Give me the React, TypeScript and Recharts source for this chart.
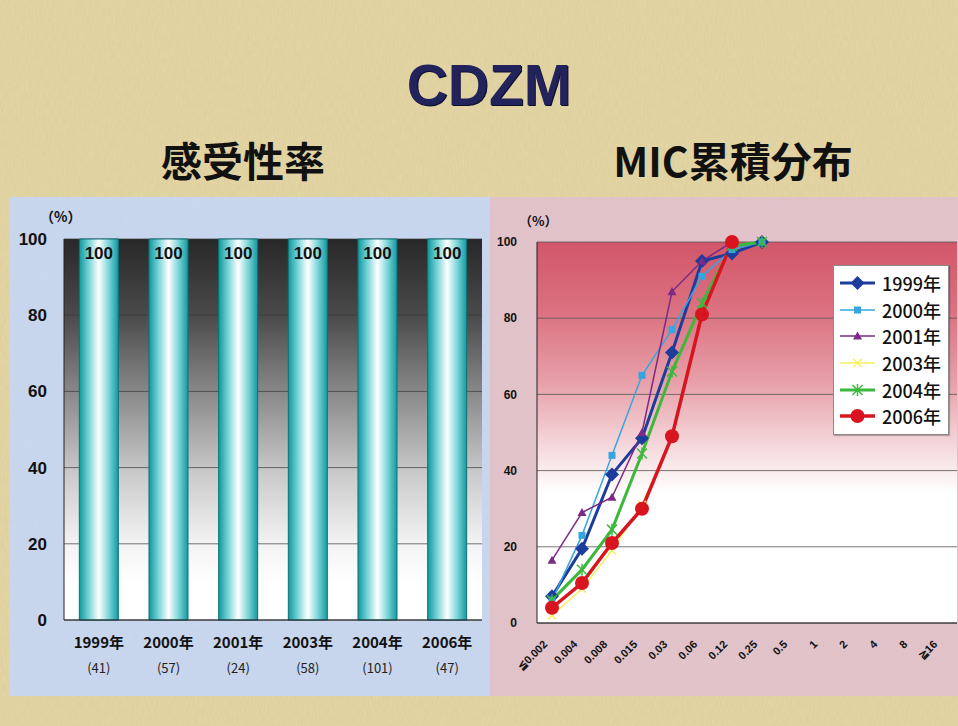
import {
  BarChart,
  Bar,
  LineChart,
  Line,
  XAxis,
  YAxis,
  CartesianGrid,
  LabelList,
  Legend,
} from 'recharts'

// 感受性率
const YEARS = ['1999年', '2000年', '2001年', '2003年', '2004年', '2006年']
const ISOLATES = [41, 57, 24, 58, 101, 47]
const SUSCEPTIBLE = [100, 100, 100, 100, 100, 100]

// MIC累積分布 (%)
const MIC_LABELS = ['≦0.002', '0.004', '0.008', '0.015', '0.03', '0.06', '0.12', '0.25', '0.5', '1', '2', '4', '8', '≧16']
const MIC_1999 = [7, 19.5, 39, 48.5, 71, 95, 97, 100]
const MIC_2000 = [6, 23, 44, 65, 77, 91, 98, 100]
const MIC_2001 = [16.5, 29, 33, 50, 87, 95, 100]
const MIC_2003 = [2, 9, 19, 31, 49, 81, 100]
const MIC_2004 = [6, 14, 24.5, 44.5, 66, 84, 99, 100]
const MIC_2006 = [4, 10.5, 21, 30, 49, 81, 100]

const PCT_TICKS = [0, 20, 40, 60, 80, 100]

type Shape = 'diamond' | 'square' | 'triangle' | 'cross' | 'star' | 'circle'

const SERIES: { key: string; name: string; values: number[]; color: string; width: number; shape: Shape; size: number }[] = [
  { key: 'y1999', name: '1999年', values: MIC_1999, color: '#1d3c9c', width: 3, shape: 'diamond', size: 7 },
  { key: 'y2000', name: '2000年', values: MIC_2000, color: '#36a6e0', width: 1.5, shape: 'square', size: 3.5 },
  { key: 'y2001', name: '2001年', values: MIC_2001, color: '#7b2a86', width: 1.5, shape: 'triangle', size: 4.5 },
  { key: 'y2003', name: '2003年', values: MIC_2003, color: '#f4f060', width: 1.5, shape: 'cross', size: 4 },
  { key: 'y2004', name: '2004年', values: MIC_2004, color: '#3cb83c', width: 3, shape: 'star', size: 5 },
  { key: 'y2006', name: '2006年', values: MIC_2006, color: '#d8141f', width: 3.5, shape: 'circle', size: 7 },
]

const barData = YEARS.map((year, i) => ({ year, n: ISOLATES[i], rate: SUSCEPTIBLE[i] }))

const micData = MIC_LABELS.map((mic, i) => {
  const row: Record<string, string | number | null> = { mic }
  SERIES.forEach(s => {
    row[s.key] = s.values[i] ?? null
  })
  return row
})

const NUM_FONT = '"Liberation Sans", Arial, sans-serif'
const JP_FONT = '"Noto Sans CJK JP", "Noto Sans", sans-serif'

function Marker({ shape, cx, cy, color, size }: { shape: Shape; cx: number; cy: number; color: string; size: number }) {
  const s = size
  switch (shape) {
    case 'diamond':
      return <polygon points={`${cx},${cy - s} ${cx + s},${cy} ${cx},${cy + s} ${cx - s},${cy}`} fill={color} />
    case 'square':
      return <rect x={cx - s} y={cy - s} width={s * 2} height={s * 2} fill={color} />
    case 'triangle':
      return <polygon points={`${cx},${cy - s} ${cx + s},${cy + s * 0.8} ${cx - s},${cy + s * 0.8}`} fill={color} />
    case 'cross':
      return (
        <g stroke={color} strokeWidth={1.5}>
          <line x1={cx - s} y1={cy - s} x2={cx + s} y2={cy + s} />
          <line x1={cx - s} y1={cy + s} x2={cx + s} y2={cy - s} />
        </g>
      )
    case 'star':
      return (
        <g stroke={color} strokeWidth={1.5}>
          <line x1={cx - s} y1={cy - s} x2={cx + s} y2={cy + s} />
          <line x1={cx - s} y1={cy + s} x2={cx + s} y2={cy - s} />
          <line x1={cx} y1={cy - s - 1} x2={cx} y2={cy + s + 1} />
        </g>
      )
    default:
      return <circle cx={cx} cy={cy} r={s} fill={color} />
  }
}

function YearTick({ x, y, payload, index }: any) {
  return (
    <g>
      <text x={x} y={y + 20} textAnchor="middle" fontFamily={JP_FONT} fontWeight={700} fontSize={15} fill="#111">
        {payload.value}
      </text>
      <text x={x} y={y + 45} textAnchor="middle" fontFamily={JP_FONT} fontSize={13} fill="#222">
        ({ISOLATES[index]})
      </text>
    </g>
  )
}

function MicTick({ x, y, payload }: any) {
  return (
    <text
      x={x - 4}
      y={y + 20}
      transform={`rotate(-45 ${x - 4} ${y + 20})`}
      textAnchor="end"
      fontFamily={NUM_FONT}
      fontWeight={700}
      fontSize={11}
      fill="#111"
    >
      {payload.value}
    </text>
  )
}

function MicLegend() {
  return (
    <div
      style={{
        background: '#fff',
        border: '1px solid #8a8a8a',
        boxShadow: '1px 1px 1px rgba(0,0,0,0.25)',
        padding: '4px 6px 4px 5px',
        width: 103,
      }}
    >
      {SERIES.map(s => (
        <div key={s.key} style={{ display: 'flex', alignItems: 'center', height: 26.6 }}>
          <svg width={38} height={16} style={{ marginRight: 5 }}>
            <line x1={1} y1={8} x2={36} y2={8} stroke={s.color} strokeWidth={s.width} />
            <Marker shape={s.shape} cx={18.5} cy={8} color={s.color} size={s.size} />
          </svg>
          <span style={{ fontFamily: JP_FONT, fontSize: 18, fontWeight: 500, color: '#111', lineHeight: 1 }}>{s.name}</span>
        </div>
      ))}
    </div>
  )
}

function Backdrop() {
  return (
    <svg width={958} height={726} style={{ position: 'absolute', left: 0, top: 0 }}>
      <defs>
        <filter id="grain" x="0" y="0" width="100%" height="100%">
          <feTurbulence type="fractalNoise" baseFrequency="0.9 0.12" numOctaves={2} seed={3} />
          <feColorMatrix type="matrix" values="0 0 0 0 0.45  0 0 0 0 0.38  0 0 0 0 0.2  0 0 0 0.55 0" />
        </filter>
        <filter id="mottle" x="0" y="0" width="100%" height="100%">
          <feTurbulence type="fractalNoise" baseFrequency="0.12" numOctaves={3} seed={8} />
          <feColorMatrix type="matrix" values="0 0 0 0 0.6  0 0 0 0 0.5  0 0 0 0 0.8  0 0 0 0.45 0" />
        </filter>
      </defs>
      <rect width={958} height={726} fill="#e6d7a6" />
      <rect width={958} height={726} filter="url(#grain)" opacity={0.35} />
      <rect x={9} y={197} width={481} height={499} fill="#c7d8ee" />
      <rect x={9} y={197} width={481} height={499} filter="url(#mottle)" opacity={0.35} />
      <rect x={490} y={197} width={468} height={499} fill="#e3c3c7" />
      <rect x={490} y={197} width={468} height={499} filter="url(#mottle)" opacity={0.3} />
    </svg>
  )
}

export default function App() {
  return (
    <div style={{ position: 'absolute', left: 0, top: 0, width: 958, height: 726, overflow: 'hidden' }}>
      <Backdrop />

      <div
        style={{
          position: 'absolute',
          top: 52,
          width: 958,
          textAlign: 'center',
          fontFamily: NUM_FONT,
          fontWeight: 900,
          fontSize: 57,
          lineHeight: '66px',
          color: '#23235c',
          textShadow: '1px 1px 0 #0d0d30',
          paddingLeft: 10,
        }}
      >
        CDZM
      </div>
      <div style={{ position: 'absolute', top: 131, left: 60, width: 366, textAlign: 'center', fontFamily: JP_FONT, fontWeight: 700, fontSize: 41, lineHeight: '56px', color: '#111' }}>
        感受性率
      </div>
      <div style={{ position: 'absolute', top: 131, left: 550, width: 366, textAlign: 'center', fontFamily: JP_FONT, fontWeight: 700, fontSize: 41, lineHeight: '56px', color: '#111' }}>
        MIC累積分布
      </div>

      <div style={{ position: 'absolute', left: 40, top: 206, fontFamily: JP_FONT, fontWeight: 700, fontSize: 14, color: '#111' }}>（%）</div>
      <div style={{ position: 'absolute', left: 519, top: 211, fontFamily: JP_FONT, fontWeight: 700, fontSize: 13, color: '#111' }}>（%）</div>

      {/* 感受性率 */}
      <div style={{ position: 'absolute', left: 0, top: 197 }}>
        <BarChart width={490} height={498} data={barData} margin={{ top: 42, right: 8, bottom: 15, left: 0 }} barCategoryGap="22%">
          <defs>
            <linearGradient id="darkFade" x1="0" y1="0" x2="0" y2="1">
              <stop offset="0%" stopColor="#282828" />
              <stop offset="20%" stopColor="#4a4a4a" />
              <stop offset="42%" stopColor="#8e8e8e" />
              <stop offset="62%" stopColor="#cbcbcb" />
              <stop offset="80%" stopColor="#f3f3f3" />
              <stop offset="90%" stopColor="#ffffff" />
            </linearGradient>
            <linearGradient id="tube" x1="0" y1="0" x2="1" y2="0">
              <stop offset="0%" stopColor="#11979d" />
              <stop offset="22%" stopColor="#6ccfd3" />
              <stop offset="50%" stopColor="#ffffff" />
              <stop offset="75%" stopColor="#7fd6d9" />
              <stop offset="100%" stopColor="#129aa0" />
            </linearGradient>
          </defs>
          <CartesianGrid vertical={false} stroke="#3a3a3a" strokeOpacity={0.7} fill="url(#darkFade)" fillOpacity={1} />
          <XAxis dataKey="year" height={60} tick={<YearTick />} tickLine={false} axisLine={{ stroke: '#222' }} interval={0} />
          <YAxis
            domain={[0, 100]}
            ticks={PCT_TICKS}
            width={64}
            tickSize={0}
            tickMargin={17}
            axisLine={{ stroke: '#222' }}
            tick={{ fontFamily: NUM_FONT, fontWeight: 700, fontSize: 17, fill: '#111' }}
          />
          <YAxis yAxisId="edge" orientation="right" width={0} tick={false} tickLine={false} axisLine={{ stroke: '#222' }} />
          <Bar dataKey="rate" fill="url(#tube)" stroke="#0d7177" strokeWidth={1} isAnimationActive={false}>
            <LabelList dataKey="rate" position="insideTop" offset={8} fill="#111" fontFamily={NUM_FONT} fontSize={17} fontWeight={600} />
          </Bar>
        </BarChart>
      </div>

      {/* MIC累積分布 */}
      <div style={{ position: 'absolute', left: 490, top: 197 }}>
        <LineChart width={468} height={498} data={micData} margin={{ top: 45, right: 1, bottom: 12, left: 0 }}>
          <defs>
            <linearGradient id="redFade" x1="0" y1="0" x2="0" y2="1">
              <stop offset="0%" stopColor="#d2566a" />
              <stop offset="18%" stopColor="#db7180" />
              <stop offset="38%" stopColor="#e8a3ac" />
              <stop offset="55%" stopColor="#f6dde0" />
              <stop offset="66%" stopColor="#ffffff" />
            </linearGradient>
          </defs>
          <CartesianGrid vertical={false} stroke="#555" strokeOpacity={0.8} fill="url(#redFade)" fillOpacity={1} />
          <XAxis
            dataKey="mic"
            height={60}
            interval={0}
            padding={{ left: 15, right: 15 }}
            tick={<MicTick />}
            tickLine={false}
            tickSize={0}
            axisLine={{ stroke: '#222' }}
          />
          <YAxis
            domain={[0, 100]}
            ticks={PCT_TICKS}
            width={47}
            tickSize={0}
            tickMargin={20}
            axisLine={{ stroke: '#222' }}
            tick={{ fontFamily: NUM_FONT, fontWeight: 700, fontSize: 12, fill: '#111' }}
          />
          <Legend
            layout="vertical"
            align="center"
            verticalAlign="middle"
            wrapperStyle={{ top: 68, left: 343, width: 'auto' }}
            content={<MicLegend />}
          />
          {SERIES.map(s => (
            <Line
              key={s.key}
              dataKey={s.key}
              name={s.name}
              type="linear"
              stroke={s.color}
              strokeWidth={s.width}
              isAnimationActive={false}
              dot={(p: any) =>
                p.value == null || p.cx == null ? (
                  <g key={`${s.key}-${p.index}`} />
                ) : (
                  <Marker key={`${s.key}-${p.index}`} shape={s.shape} cx={p.cx} cy={p.cy} color={s.color} size={s.size} />
                )
              }
              activeDot={false}
            />
          ))}
        </LineChart>
      </div>
    </div>
  )
}
